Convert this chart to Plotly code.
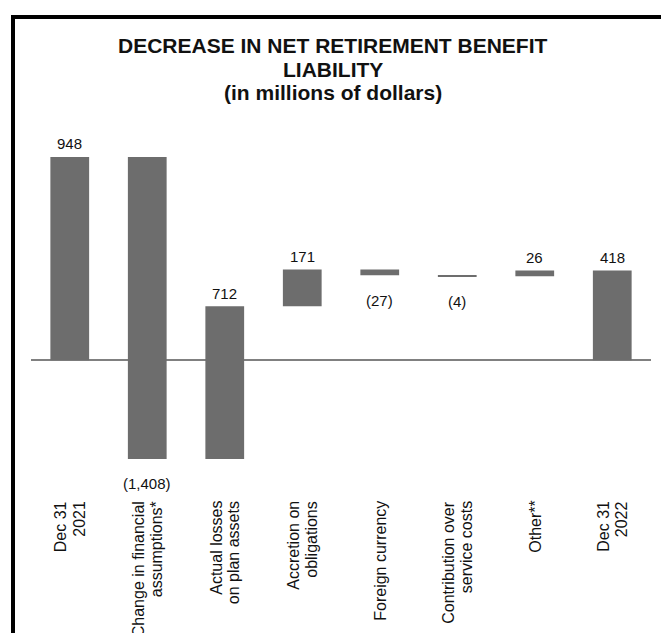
import plotly.graph_objects as go

# Waterfall steps (millions of dollars)
categories = [
    "Dec 31<br>2021",
    "Change in financial<br>assumptions*",
    "Actual losses<br>on plan assets",
    "Accretion on<br>obligations",
    "Foreign currency",
    "Contribution over<br>service costs",
    "Other**",
    "Dec 31<br>2022",
]
values = [948, -1408, 712, 171, -27, -4, 26, 418]
measures = ["absolute", "relative", "relative", "relative",
            "relative", "relative", "relative", "total"]

title_lines = ["DECREASE IN NET RETIREMENT BENEFIT", "LIABILITY",
               "(in millions of dollars)"]

BAR = "#6d6d6d"
FONT = "Arial, Liberation Sans, sans-serif"
TEXT = "#111111"

# Plot-area geometry in pixels (used to place paper-referenced items)
W, H = 661, 633
M_L, M_R, M_T, M_B = 31, 10, 120, 138
PLOT_W = W - M_L - M_R
PLOT_H = H - M_T - M_B


def px_x(x):
    return (x - M_L) / PLOT_W


def px_y(y):
    return (H - M_B - y) / PLOT_H


def fmt(v):
    return f"({abs(v):,})" if v < 0 else f"{v:,}"


fig = go.Figure()
fig.add_trace(go.Waterfall(
    x=categories,
    y=values,
    measure=measures,
    increasing=dict(marker=dict(color=BAR)),
    decreasing=dict(marker=dict(color=BAR)),
    totals=dict(marker=dict(color=BAR)),
    connector=dict(visible=False),
    textposition="none",
    hoverinfo="x+y",
))

annotations = []

# Value labels: above the top of rising/total bars, below falling ones
running = 0
for cat, val, meas in zip(categories, values, measures):
    if meas == "relative":
        start, end = running, running + val
        running = end
    else:
        start, end = 0, val
        running = val
    if val >= 0:
        y, shift = max(start, end), 13
    else:
        y, shift = min(start, end), -25
    annotations.append(dict(
        x=cat, y=y, xref="x", yref="y", text=fmt(val), showarrow=False,
        yshift=shift, yanchor="middle",
        font=dict(family=FONT, size=15, color=TEXT),
    ))

# Vertical category labels, one annotation per line for tighter leading
LINE_GAP = 18
for cat in categories:
    lines = cat.split("<br>")
    n = len(lines)
    for j, line in enumerate(lines):
        annotations.append(dict(
            x=cat, y=px_y(499), xref="x", yref="paper",
            text=line, showarrow=False, textangle=-90,
            xanchor="center", yanchor="top",
            xshift=(j - (n - 1) / 2) * LINE_GAP,
            font=dict(family=FONT, size=16, color=TEXT),
        ))

# Title, one annotation per line for tight line spacing
for i, line in enumerate(title_lines):
    annotations.append(dict(
        x=px_x(333), y=px_y(46 + 23 * i), xref="paper", yref="paper",
        text=f"<b>{line}</b>", showarrow=False,
        xanchor="center", yanchor="middle",
        font=dict(family=FONT, size=21, color=TEXT),
    ))

# Frame along the left and top edges
frame = [
    dict(type="line", xref="paper", yref="paper",
         x0=px_x(13), x1=px_x(13), y0=px_y(17), y1=px_y(640),
         line=dict(color="black", width=4)),
    dict(type="line", xref="paper", yref="paper",
         x0=px_x(11), x1=px_x(661), y0=px_y(17), y1=px_y(17),
         line=dict(color="black", width=4)),
]

fig.update_layout(
    width=W,
    height=H,
    margin=dict(l=M_L, r=M_R, t=M_T, b=M_B, autoexpand=False),
    paper_bgcolor="white",
    plot_bgcolor="white",
    showlegend=False,
    waterfallgap=0.5,
    xaxis=dict(
        showgrid=False, showline=False, ticks="", showticklabels=False,
        automargin=False,
    ),
    yaxis=dict(
        range=[-628, 1120], showgrid=False, showticklabels=False,
        zeroline=True, zerolinecolor="#808080", zerolinewidth=2,
        showline=False, ticks="", automargin=False,
    ),
    annotations=annotations,
    shapes=frame,
)

fig.write_html("out.html")
